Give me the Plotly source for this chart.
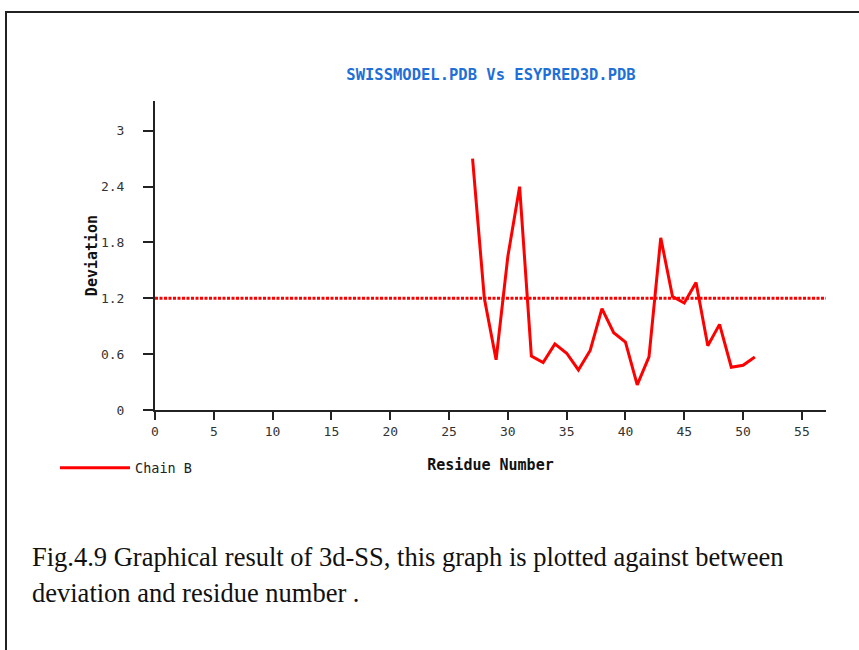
import plotly.graph_objects as go

residues = [27, 28, 29, 30, 31, 32, 33, 34, 35, 36, 37, 38, 39, 40, 41, 42, 43, 44, 45, 46, 47, 48, 49, 50, 51]
deviation = [2.70, 1.20, 0.54, 1.65, 2.40, 0.58, 0.51, 0.71, 0.61, 0.43, 0.64, 1.09, 0.83, 0.73, 0.27, 0.57, 1.85, 1.22, 1.15, 1.37, 0.69, 0.92, 0.46, 0.48, 0.57]
threshold = 1.2
x_ticks = [0, 5, 10, 15, 20, 25, 30, 35, 40, 45, 50, 55]
y_ticks = [0, 0.6, 1.2, 1.8, 2.4, 3]
y_tick_labels = ["0", "0.6", "1.2", "1.8", "2.4", "3"]
x_max = 57.05
y_max = 3.32

title_text = "SWISSMODEL.PDB Vs ESYPRED3D.PDB"
caption_lines = [
    "Fig.4.9 Graphical result of 3d-SS, this graph is plotted against between",
    "deviation and residue number .",
]

W, H = 859, 650
L, R, T, B = 155, 859 - 826, 101, 650 - 410
pw, ph = W - L - R, H - T - B


def px_x(p):
    return (p - L) / pw


def px_y(p):
    return (H - B - p) / ph


mono = "DejaVu Sans Mono"

fig = go.Figure()
fig.add_trace(go.Scatter(
    x=[0, x_max], y=[threshold, threshold], mode="lines",
    line=dict(color="#ff0000", width=3, dash="3px,1.5px"),
    showlegend=False, hoverinfo="skip"))
fig.add_trace(go.Scatter(
    x=residues, y=deviation, mode="lines", name="Chain B",
    line=dict(color="#ff0000", width=3)))

fig.update_layout(
    width=W, height=H,
    margin=dict(l=L, r=R, t=T, b=B, pad=0),
    paper_bgcolor="white", plot_bgcolor="white",
    title=dict(text="<b>" + title_text + "</b>", x=px_x(491), xref="paper", xanchor="center",
               y=1 - 75 / H, yanchor="middle",
               font=dict(family=mono, size=15.5, color="#1f6fd8")),
    showlegend=True,
    legend=dict(x=px_x(55), y=px_y(468), xanchor="left", yanchor="middle",
                font=dict(family=mono, size=13.5, color="#222222"),
                bgcolor="rgba(0,0,0,0)", itemwidth=70),
    xaxis=dict(range=[0, x_max], tickmode="array", tickvals=x_ticks,
               showgrid=False, zeroline=False, showline=True, linecolor="#222222",
               linewidth=2, ticks="outside", ticklen=8, tickwidth=2, tickcolor="#222222",
               tickfont=dict(family=mono, size=13, color="#333333"),
               title=dict(text="<b>Residue Number</b>", standoff=22,
                          font=dict(family=mono, size=15, color="#111111"))),
    yaxis=dict(range=[0, y_max], tickmode="array", tickvals=y_ticks, ticktext=y_tick_labels,
               showgrid=False, zeroline=False, showline=True, linecolor="#222222",
               linewidth=2, ticks="outside", ticklen=10, tickwidth=2, tickcolor="#222222",
               ticklabelstandoff=16,
               tickfont=dict(family=mono, size=13, color="#333333"),
               title=dict(text="<b>Deviation</b>", standoff=0,
                          font=dict(family=mono, size=15, color="#111111"))),
)

# outer frame of the figure panel
fig.add_shape(type="rect", xref="paper", yref="paper",
              x0=px_x(6), y0=px_y(720), x1=px_x(920), y1=px_y(12),
              line=dict(color="#222222", width=2), fillcolor="rgba(0,0,0,0)", layer="below")

for i, line in enumerate(caption_lines):
    fig.add_annotation(text=line, xref="paper", yref="paper",
                       x=px_x(30), y=px_y(557 + 36 * i), xanchor="left", yanchor="middle",
                       showarrow=False,
                       font=dict(family="Liberation Serif", size=26.5, color="#111111"))

fig.write_html("out.html", config={"displayModeBar": False},
               post_script="document.body.style.margin='0';document.body.style.overflow='hidden';")
